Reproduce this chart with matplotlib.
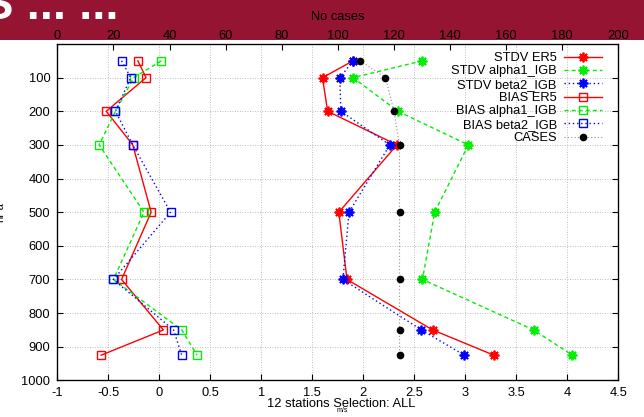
import numpy as np
import matplotlib
matplotlib.use('Agg')
import matplotlib.pyplot as plt
from matplotlib.patches import Rectangle

plt.rcParams['font.family'] = ['Liberation Sans', 'DejaVu Sans']
plt.rcParams['font.size'] = 9.3

# pressure levels (hPa)
levels = [50, 100, 200, 300, 500, 700, 850, 925]

# wind speed scores (m/s)
stdv_er5 = [1.90, 1.60, 1.65, 2.33, 1.76, 1.84, 2.68, 3.28]
stdv_alpha1 = [2.58, 1.90, 2.34, 3.03, 2.70, 2.58, 3.67, 4.05]
stdv_beta2 = [1.90, 1.77, 1.78, 2.26, 1.86, 1.80, 2.57, 2.99]
bias_er5 = [-0.21, -0.13, -0.52, -0.26, -0.08, -0.37, 0.04, -0.57]
bias_alpha1 = [0.02, -0.25, -0.43, -0.59, -0.15, -0.45, 0.22, 0.37]
bias_beta2 = [-0.37, -0.28, -0.43, -0.26, 0.11, -0.45, 0.14, 0.22]

# number of cases per level
cases = [108, 117, 120, 122, 122, 122, 122, 122]

W, H = 644, 417
fig = plt.figure(figsize=(W / 100, H / 100), dpi=100)

# header band
band = 39.5
fig.add_artist(Rectangle((0, 1 - band / H), 1, band / H, transform=fig.transFigure,
                         facecolor='#941432', edgecolor='none', zorder=-1))
fig.text(-18 / W, 1 - 19 / H, 'S ... ...', color='white', fontsize=34,
         fontweight='bold', va='baseline', ha='left')

x0, x1, y0, y1 = 57.3, 618.3, 44.0, 380.4
ax = fig.add_axes([x0 / W, 1 - y1 / H, (x1 - x0) / W, (y1 - y0) / H])

red, green, blue = '#ff0000', '#00ee00', '#0000ff'
dashed = (0, (2.9, 2.2))
dotted = (0, (1.0, 2.0))
star = (8, 2, 0)

l1, = ax.plot(stdv_er5, levels, color=red, lw=1, ls='-', marker=star, ms=7, mew=1.3, label='STDV ER5')
l2, = ax.plot(stdv_alpha1, levels, color=green, lw=1, ls=dashed, marker=star, ms=7, mew=1.3, label='STDV alpha1_IGB')
l3, = ax.plot(stdv_beta2, levels, color=blue, lw=1, ls=dotted, marker=star, ms=7, mew=1.3, label='STDV beta2_IGB')
l4, = ax.plot(bias_er5, levels, color=red, lw=1, ls='-', marker='s', ms=6, mew=1, mfc='none', label='BIAS ER5')
l5, = ax.plot(bias_alpha1, levels, color=green, lw=1, ls=dashed, marker='s', ms=6, mew=1, mfc='none', label='BIAS alpha1_IGB')
l6, = ax.plot(bias_beta2, levels, color=blue, lw=1, ls=dotted, marker='s', ms=6, mew=1, mfc='none', label='BIAS beta2_IGB')

ax.set_xlim(-1, 4.5)
ax.set_ylim(1000, 0)
xt = np.arange(-1, 4.51, 0.5)
ax.set_xticks(xt)
ax.set_xticklabels([f'{v:g}' for v in xt])
ax.set_yticks(np.arange(100, 1001, 100))
ax.tick_params(direction='in', length=4.3, width=0.8, top=True, right=True,
               labeltop=False, pad=5)
ax.grid(True, color='#a8a8a8', ls=dotted, lw=0.6)
for s in ax.spines.values():
    s.set_linewidth(0.9)

# cases on the upper axis
ax2 = ax.twiny()
l7, = ax2.plot(cases, levels, color='#909090', lw=0.8, ls=dotted, marker='o', ms=4.5,
               mfc='black', mec='black', label='CASES')
ax2.set_xlim(0, 200)
ax2.set_xticks(np.arange(0, 201, 20))
ax2.tick_params(direction='in', length=4.3, width=0.8, pad=1.3)
ax2.set_xlabel('No cases', labelpad=7.5)

handles = [l1, l2, l3, l4, l5, l6, l7]
ax2.legend(handles=handles, loc='upper right', bbox_to_anchor=(0.971, 0.976),
           frameon=False, markerfirst=False, borderpad=0, borderaxespad=0,
           handlelength=2.95, handletextpad=0.55, labelspacing=0.1, fontsize=9.3)

fig.text(341 / W, 1 - 404 / H, '12 stations Selection: ALL', ha='center', va='center')
fig.text(342 / W, 1 - 411 / H, 'm/s', ha='center', va='center', fontsize=5)
fig.text(0.0, 1 - 212 / H, 'hPa', rotation=90, ha='center', va='center', fontsize=8)

fig.savefig('out.png', dpi=100)
